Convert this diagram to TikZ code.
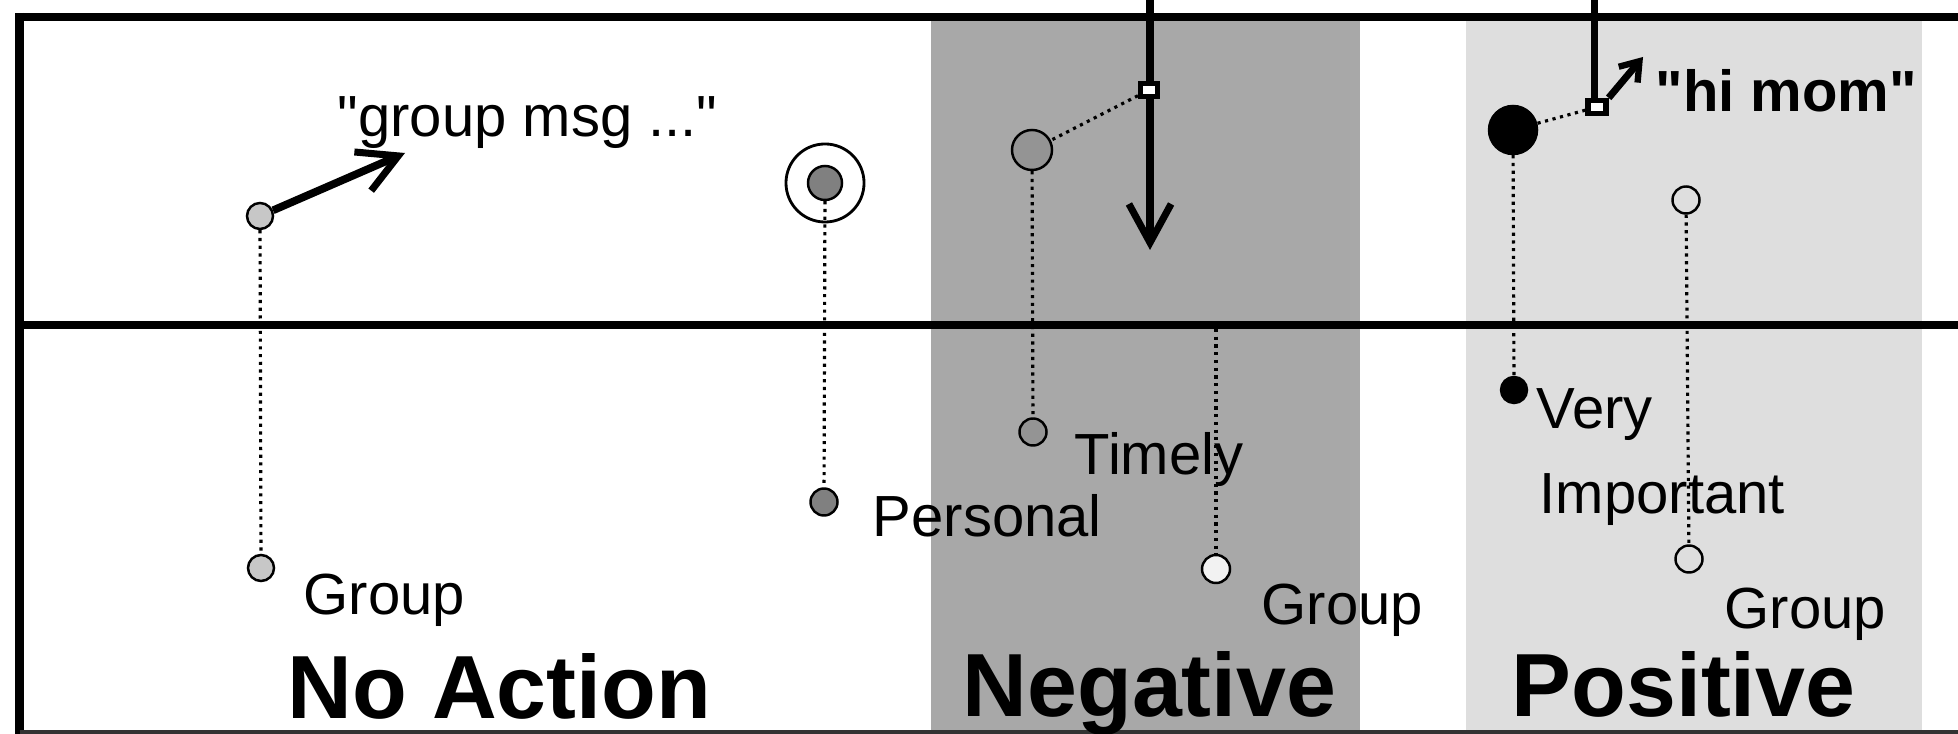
\documentclass[tikz,border=0pt]{standalone}
\usepackage{fontspec}
\setmainfont{Liberation Sans}[Ligatures=TeXOff]
\usetikzlibrary{arrows.meta}
\definecolor{neggray}{gray}{0.66}
\definecolor{posgray}{gray}{0.87}
\definecolor{lightdot}{gray}{0.78}
\definecolor{middot}{gray}{0.50}
\definecolor{timdot}{gray}{0.58}
\definecolor{whitedot}{gray}{0.95}
\begin{document}
\begin{tikzpicture}[x=0.01cm,y=-0.01cm,
  frame/.style={line width=2.3pt, black},
  circ/.style={circle, draw=black, line width=0.7pt, inner sep=0pt},
  dotline/.style={line width=0.9pt, dash pattern=on 0.9pt off 1.3pt},
  lbl/.style={anchor=base west, inner sep=0pt, font=\fontsize{16.5}{18}\selectfont},
  biglbl/.style={anchor=base west, inner sep=0pt, font=\fontsize{25.5}{28}\selectfont\bfseries},
  barb/.style={-{Straight Barb[length=11pt,width=12pt,line width=2pt]}, line width=2.2pt},
  sqbox/.style={rectangle, draw=black, fill=white, line width=1.5pt, inner sep=0pt}
]
\useasboundingbox (0,0) rectangle (1958,734);
\clip (0,0) rectangle (1958,734);
\fill[white] (0,0) rectangle (1958,734);
% bands
\fill[neggray] (931,17) rectangle (1360,734);
\fill[posgray] (1466,17) rectangle (1922,734);
% frame
\draw[frame] (15.5,17) -- (1958,17);
\draw[frame] (19.5,13) -- (19.5,734);
\draw[frame] (19.5,325) -- (1958,325);
\draw[line width=1.2pt, black!80] (19.5,732) -- (1958,732);

% No Action column
\node[circ, minimum size=0.26cm, fill=lightdot] (natop) at (260,216) {};
\node[circ, minimum size=0.26cm, fill=lightdot] (nabot) at (261,568) {};
\draw[dotline] (natop) -- (nabot);
\coordinate (natip) at (405,153);
\draw[barb] (natop) -- (natip);
\node[lbl] (gmsg) at (337,137) {"group msg ..."};
\node[lbl] (nagrp) at (303,614) {Group};

\node[circle, draw=black, line width=0.8pt, minimum size=0.78cm, inner sep=0pt] (pring) at (825,183) {};
\node[circ, minimum size=0.34cm, fill=middot] (pin) at (825,183) {};
\node[circ, minimum size=0.27cm, fill=middot] (pbot) at (824,502) {};
\draw[dotline] (pin) -- (pbot);
\node[lbl] (perslbl) at (872,537) {Personal};

% Negative column
\coordinate (negin) at (1150,0);
\coordinate (negtip) at (1150,250);
\draw[barb] (negin) -- (negtip);
\node[sqbox, minimum width=0.17cm, minimum height=0.13cm] (nsq) at (1149,90) {};
\node[circ, minimum size=0.40cm, fill=timdot] (timtop) at (1032,150) {};
\node[circ, minimum size=0.27cm, fill=timdot] (timbot) at (1033,432) {};
\draw[dotline] (nsq) -- (timtop);
\draw[dotline] (timtop) -- (timbot);
\node[lbl] (timlbl) at (1074,475) {Timely};
\coordinate (ngtop) at (1216,329);
\node[circ, minimum size=0.28cm, fill=whitedot] (ngbot) at (1216,569) {};
\draw[dotline] (ngtop) -- (ngbot);
\node[lbl] (nglbl) at (1261,624) {Group};

% Positive column
\coordinate (posin) at (1594,0);
\node[sqbox, minimum width=0.18cm, minimum height=0.13cm] (psq) at (1597,107) {};
\draw[line width=2pt] (posin) -- (psq.north -| posin);
\coordinate (ptip) at (1643,57);
\draw[-{Straight Barb[length=5pt,width=7pt,line width=1.8pt]}, line width=2pt] (psq.north east) -- (ptip);
\node[lbl, font=\fontsize{16.5}{18}\selectfont\bfseries] (himom) at (1655,112) {"hi mom"};
\node[circ, minimum size=0.48cm, fill=black] (pbig) at (1513,130) {};
\node[circ, minimum size=0.26cm, fill=black] (very) at (1514,390) {};
\draw[dotline] (psq) -- (pbig);
\draw[dotline] (pbig) -- (very);
\node[lbl] (verylbl) at (1536,429) {Very};
\node[lbl] (implbl) at (1539,514) {Important};
\node[circ, minimum size=0.27cm, fill=posgray] (pgtop) at (1686,200) {};
\node[circ, minimum size=0.27cm, fill=posgray] (pgbot) at (1689,559) {};
\draw[dotline] (pgtop) -- (pgbot);
\node[lbl] (pglbl) at (1724,629) {Group};

% column titles
\node[biglbl] (noact) at (287,718) {No Action};
\node[biglbl] (neg) at (962,716) {Negative};
\node[biglbl] (pos) at (1511,716) {Positive};
\end{tikzpicture}
\end{document}
